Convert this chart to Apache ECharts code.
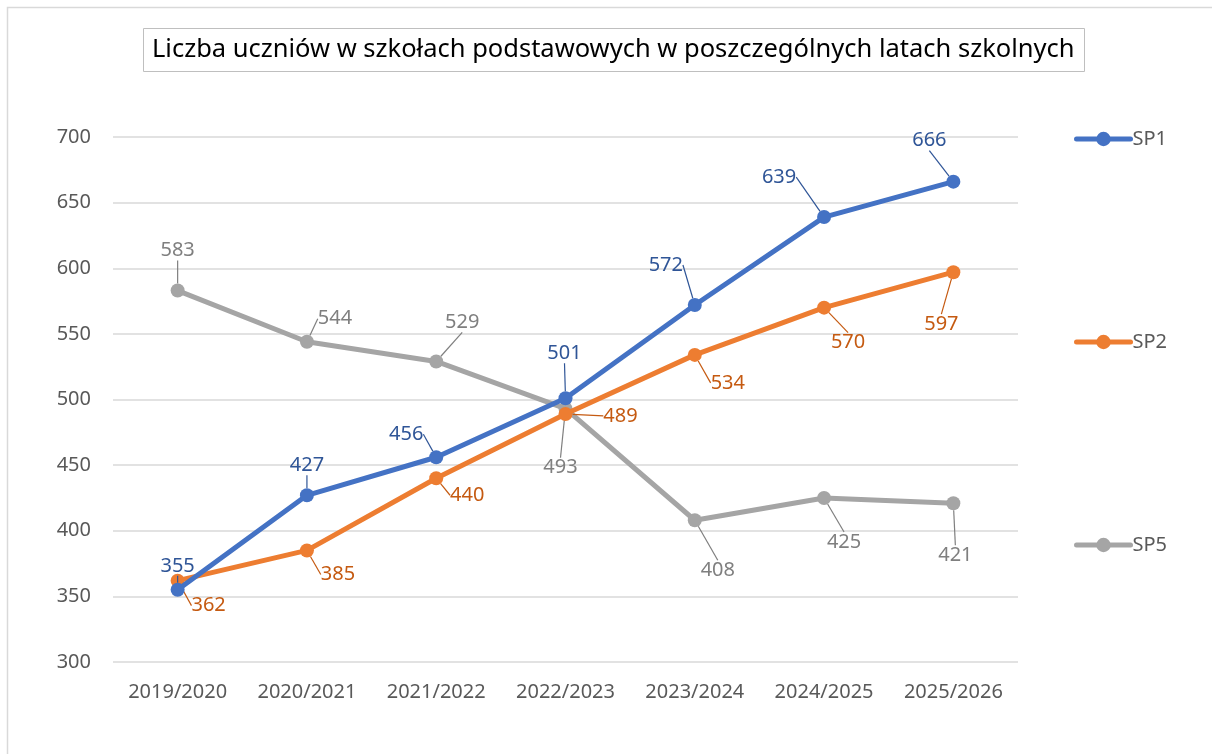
<!DOCTYPE html>
<html>
<head>
<meta charset="utf-8">
<script src="https://cdn.jsdelivr.net/npm/echarts@6/dist/echarts.min.js"></script>
<style>
  html, body { margin: 0; padding: 0; background: #fff; }
  #main { width: 1212px; height: 754px; }
</style>
</head>
<body>
<div id="main"></div>
<script>
var years = ['2019/2020', '2020/2021', '2021/2022', '2022/2023', '2023/2024', '2024/2025', '2025/2026'];
var sp1 = [355, 427, 456, 501, 572, 639, 666];
var sp2 = [362, 385, 440, 489, 534, 570, 597];
var sp5 = [583, 544, 529, 493, 408, 425, 421];

// przesunięcia etykiet względem punktu (jak w Excelu)
var off1 = [[0, -24], [0, -30], [-30, -23], [-1, -45], [-29, -40], [-45, -40], [-24, -41]];
var off2 = [[31, 25], [31, 24], [31, 17], [55, 2], [33, 28], [24, 35], [-12, 52]];
var off5 = [[0, -40], [28, -23], [26, -39], [-5, 59], [23, 50], [20, 44], [2, 52]];

var colors = ['#4472C4', '#ED7D31', '#A5A5A5'];
var labelColors = ['#2F5597', '#C55A11', '#7F7F7F'];
var font = 'Noto Sans';

function makeSerie(name, data, offs, idx) {
    return {
        name: name,
        type: 'line',
        data: data,
        symbol: 'circle',
        symbolSize: 14,
        lineStyle: { width: 5, color: colors[idx], cap: 'round' },
        itemStyle: { color: colors[idx] },
        z: 3 - idx,
        label: {
            show: true,
            position: 'inside',
            color: labelColors[idx],
            fontFamily: font,
            fontSize: 20
        },
        labelLine: {
            show: true,
            lineStyle: { color: labelColors[idx], width: 1.2 }
        },
        labelLayout: function (params) {
            var o = offs[params.dataIndex];
            return { dx: o[0], dy: o[1] };
        }
    };
}

var myChart = echarts.init(document.getElementById('main'));
var option = {
    color: colors,
    animation: false,
    textStyle: { fontFamily: font },
    graphic: [{
        type: 'rect',
        shape: { x: 7.5, y: 7.5, width: 1220, height: 760 },
        style: { fill: 'none', stroke: '#d9d9d9', lineWidth: 1.5 },
        silent: true
    }],
    title: {
        text: 'Liczba uczniów w szkołach podstawowych w poszczególnych latach szkolnych',
        left: 143,
        top: 28,
        borderColor: '#bfbfbf',
        borderWidth: 1,
        padding: [9, 10, 9, 9],
        textStyle: { fontFamily: font, fontSize: 25.5, fontWeight: 'normal', color: '#000' }
    },
    legend: {
        orient: 'vertical',
        left: 1069,
        top: 124,
        itemWidth: 54,
        itemHeight: 18,
        itemGap: 183,
        lineStyle: { width: 5, cap: 'round' },
        textStyle: { fontFamily: font, fontSize: 20, color: '#595959', padding: [0, 0, 0, -3] },
        data: ['SP1', 'SP2', 'SP5']
    },
    grid: { left: 113, right: 194, top: 137, bottom: 92, containLabel: false },
    xAxis: {
        type: 'category',
        data: years,
        axisLine: { show: false },
        axisTick: { show: false },
        axisLabel: { color: '#595959', fontSize: 20, fontFamily: font, margin: 20 }
    },
    yAxis: {
        type: 'value',
        min: 300,
        max: 700,
        interval: 50,
        axisLine: { show: false },
        axisTick: { show: false },
        axisLabel: { color: '#595959', fontSize: 20, fontFamily: font, margin: 22 },
        splitLine: { lineStyle: { color: '#d9d9d9', width: 1.5 } }
    },
    series: [
        makeSerie('SP1', sp1, off1, 0),
        makeSerie('SP2', sp2, off2, 1),
        makeSerie('SP5', sp5, off5, 2)
    ]
};
myChart.setOption(option);
</script>
</body>
</html>
